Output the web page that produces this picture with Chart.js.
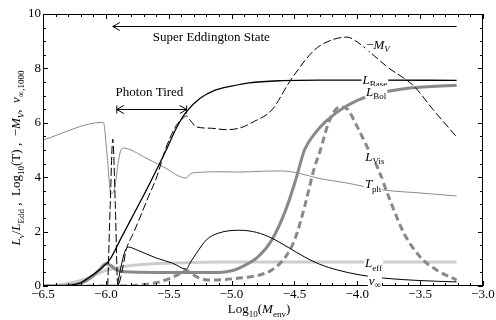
<!DOCTYPE html>
<html>
<head>
<meta charset="utf-8">
<script src="https://cdn.jsdelivr.net/npm/chart.js@4.4.1/dist/chart.umd.min.js"></script>
<style>
  html, body { margin:0; padding:0; background:#fff; }
</style>
</head>
<body>
<canvas id="c" width="496" height="320"></canvas>
<script>
const SERIF = '"Liberation Serif", "DejaVu Serif", serif';
const GREY  = '#898989';
const LIGHT = '#cdcdcd';

// --- data ---
const xTickVals = [-6.5, -6.0, -5.5, -5.0, -4.5, -4.0, -3.5, -3.0];
const yTickVals = [0, 2, 4, 6, 8, 10];

const lBaseX = [-6.5, -6.3, -6.2, -6.13, -6.05, -5.97, -5.88, -5.79, -5.65, -5.52, -5.44, -5.36, -5.25, -5.13, -5.0, -4.86, -4.6, -4.3, -3.9, -3.21];
const lBaseY = [0, 0.02, 0.12, 0.33, 0.6, 0.96, 1.75, 2.54, 3.78, 5.0, 5.8, 6.4, 6.9, 7.2, 7.35, 7.47, 7.55, 7.57, 7.57, 7.56];

const mvX = [-5.985, -5.965, -5.945, -5.925, -5.905, -5.88, -5.86, -5.84, -5.78, -5.73, -5.66, -5.6, -5.52, -5.44, -5.39, -5.36, -5.33, -5.28, -5.16, -5.05, -4.94, -4.82, -4.68, -4.53, -4.34, -4.2, -4.08, -4.0, -3.9, -3.76, -3.55, -3.4, -3.21];
const mvY = [0, 3.0, 5.4, 3.0, 0, 0.35, 0.8, 1.3, 1.95, 2.5, 3.3, 3.95, 5.1, 5.9, 6.15, 6.25, 6.1, 5.85, 5.8, 5.75, 5.8, 6.05, 6.47, 7.57, 8.68, 9.05, 9.15, 8.97, 8.6, 8.05, 7.35, 6.5, 5.48];

const lBolX = [-6.5, -6.3, -6.2, -6.12, -6.05, -6.0, -5.96, -5.92, -5.85, -5.6, -5.3, -5.1, -5.0, -4.94, -4.79, -4.68, -4.57, -4.49, -4.42, -4.33, -4.25, -4.1, -3.9, -3.58, -3.21];
const lBolY = [0, 0.02, 0.1, 0.3, 0.6, 0.82, 0.75, 0.6, 0.52, 0.5, 0.5, 0.5, 0.56, 0.66, 1.07, 1.69, 2.79, 3.9, 5.0, 5.65, 6.05, 6.58, 7.0, 7.28, 7.38];

const lVisX = [-6.5, -5.9, -5.75, -5.6, -5.48, -5.4, -5.36, -5.32, -5.26, -5.18, -5.05, -4.94, -4.86, -4.78, -4.68, -4.57, -4.49, -4.42, -4.34, -4.3, -4.22, -4.14, -4.08, -4.0, -3.92, -3.84, -3.74, -3.63, -3.5, -3.37, -3.21];
const lVisY = [0, 0, 0.03, 0.12, 0.3, 0.48, 0.57, 0.45, 0.3, 0.22, 0.24, 0.29, 0.33, 0.4, 0.59, 1.07, 1.8, 2.9, 4.37, 4.9, 6.1, 6.58, 6.5, 5.85, 5.1, 4.37, 3.16, 1.95, 1.07, 0.59, 0.22];

const tphX = [-6.5, -6.02, -5.99, -5.96, -5.93, -5.9, -5.88, -5.86, -5.8, -5.7, -5.55, -5.36, -5.33, -5.25, -5.1, -4.94, -4.75, -4.6, -4.47, -4.3, -4.1, -3.79, -3.5, -3.21];
const tphY = [5.37, 6.02, 4.8, 3.4, 3.6, 4.6, 5.0, 5.07, 5.0, 4.75, 4.4, 3.97, 4.12, 4.18, 4.2, 4.19, 4.22, 4.23, 4.15, 3.95, 3.8, 3.53, 3.42, 3.31];

const lEffX = [-6.5, -6.35, -6.2, -6.1, -6.0, -5.9, -5.79, -5.65, -5.52, -5.35, -5.1, -3.21];
const lEffY = [0, 0.05, 0.2, 0.38, 0.58, 0.68, 0.76, 0.81, 0.84, 0.86, 0.88, 0.88];

const vInfX = [-5.905, -5.88, -5.85, -5.82, -5.75, -5.6, -5.47, -5.36, -5.33, -5.28, -5.2, -5.1, -4.94, -4.8, -4.68, -4.55, -4.42, -4.3, -4.16, -3.97, -3.79, -3.5, -3.21];
const vInfY = [0.1, 0.7, 1.25, 1.43, 1.32, 1.03, 0.84, 0.62, 0.85, 1.2, 1.7, 1.95, 2.05, 1.97, 1.76, 1.42, 1.07, 0.8, 0.59, 0.4, 0.29, 0.2, 0.15];

const zip = (xs, ys) => xs.map((x, i) => ({ x, y: ys[i] }));

// rich text: parts = [text, style]  style: '' | 'i' | 's' | 'si'
function richWidth(ctx, parts, size) {
  let w = 0;
  for (const [t, st] of parts) {
    ctx.font = fontFor(st, size);
    w += ctx.measureText(t).width;
  }
  return w;
}
function fontFor(st, size) {
  const sub = st.includes('s');
  const it = st.includes('i');
  return (it ? 'italic ' : '') + (sub ? Math.round(size * 0.7) : size) + 'px ' + SERIF;
}
function drawRich(ctx, parts, cx, cy, size, bg) {
  const w = richWidth(ctx, parts, size);
  let x = cx - w / 2;
  const base = cy + size * 0.33;
  if (bg) {
    ctx.fillStyle = '#fff';
    ctx.fillRect(x - 1, cy - size * 0.45, w + 2, size * 0.95);
  }
  ctx.fillStyle = '#000';
  ctx.textBaseline = 'alphabetic';
  ctx.textAlign = 'left';
  for (const [t, st] of parts) {
    ctx.font = fontFor(st, size);
    ctx.fillText(t, x, base + (st.includes('s') ? size * 0.25 : 0));
    x += ctx.measureText(t).width;
  }
}

const curveLabels = [
  { x: -3.835, y: 8.88, parts: [['−', ''], ['M', 'i'], ['V', 'si']] },
  { x: -3.86,  y: 7.58, parts: [['L', 'i'], ['Base', 's']] },
  { x: -3.85,  y: 7.14, parts: [['L', 'i'], ['Bol', 's']] },
  { x: -3.86,  y: 4.75, parts: [['L', 'i'], ['Vis', 's']] },
  { x: -3.875, y: 3.75, parts: [['T', 'i'], ['ph', 's']] },
  { x: -3.87,  y: 0.84, parts: [['L', 'i'], ['eff', 's']] },
  { x: -3.86,  y: 0.21, parts: [['v', 'i'], ['∞', 's']] },
];

function arrowHead(ctx, x, y, dir) {
  ctx.beginPath();
  ctx.moveTo(x + dir * 7, y - 4);
  ctx.lineTo(x, y);
  ctx.lineTo(x + dir * 7, y + 4);
  ctx.stroke();
}

const decor = {
  id: 'decor',
  afterDatasetsDraw(chart) {
    const { ctx, chartArea: a, scales: { x, y } } = chart;
    ctx.save();
    ctx.strokeStyle = '#000';
    ctx.lineWidth = 1;
    ctx.setLineDash([]);

    // frame
    ctx.strokeRect(a.left + 0.5, a.top + 0.5, a.right - a.left - 1, a.bottom - a.top - 1);

    // inward ticks on all four sides
    ctx.beginPath();
    for (let k = 0; k <= 35; k++) {
      const v = -6.5 + k * 0.1;
      const px = Math.round(x.getPixelForValue(v)) + 0.5;
      const len = k % 5 === 0 ? 5 : 3;
      ctx.moveTo(px, a.bottom); ctx.lineTo(px, a.bottom - len);
      ctx.moveTo(px, a.top); ctx.lineTo(px, a.top + len);
    }
    for (let k = 0; k <= 20; k++) {
      const v = k * 0.5;
      const py = Math.round(y.getPixelForValue(v)) + 0.5;
      const len = k % 4 === 0 ? 5 : 3;
      ctx.moveTo(a.left, py); ctx.lineTo(a.left + len, py);
      ctx.moveTo(a.right, py); ctx.lineTo(a.right - len, py);
    }
    ctx.stroke();

    // Super Eddington arrow
    const sy = Math.round(y.getPixelForValue(9.55)) + 0.5;
    const sx0 = x.getPixelForValue(-5.945), sx1 = x.getPixelForValue(-3.21);
    ctx.beginPath(); ctx.moveTo(sx0, sy); ctx.lineTo(sx1, sy); ctx.stroke();
    arrowHead(ctx, sx0, sy, 1);
    drawRich(ctx, [['Super Eddington State', '']], x.getPixelForValue(-5.161), y.getPixelForValue(9.16), 13, false);

    // Photon Tired arrow
    const py = Math.round(y.getPixelForValue(6.5)) + 0.5;
    const px0 = x.getPixelForValue(-5.913), px1 = x.getPixelForValue(-5.357);
    ctx.beginPath(); ctx.moveTo(px0, py); ctx.lineTo(px1, py);
    ctx.moveTo(px0, py - 4); ctx.lineTo(px0, py + 4);
    ctx.moveTo(px1, py - 4); ctx.lineTo(px1, py + 4);
    ctx.stroke();
    arrowHead(ctx, px0, py, 1);
    arrowHead(ctx, px1, py, -1);
    drawRich(ctx, [['Photon Tired', '']], x.getPixelForValue(-5.653), y.getPixelForValue(7.14), 13, false);

    // curve labels
    for (const l of curveLabels) {
      drawRich(ctx, l.parts, x.getPixelForValue(l.x), y.getPixelForValue(l.y), 13, true);
    }

    // axis titles
    drawRich(ctx, [['Log', ''], ['10', 's'], ['(', ''], ['M', 'i'], ['env', 's'], [')', '']],
      (a.left + a.right) / 2 - 4, 309, 13, false);
    ctx.translate(16, 158);
    ctx.rotate(-Math.PI / 2);
    drawRich(ctx, [['L', 'i'], ['ν', 'si'], ['/', ''], ['L', 'i'], ['Edd', 's'], [' ,  Log', ''], ['10', 's'],
      ['(T) ,  −', ''], ['M', 'i'], ['V', 'si'], [',  ', ''], ['v', 'i'], ['∞,1000', 's']], 0, 0, 13, false);
    ctx.restore();
  }
};

const base = { pointRadius: 0, fill: false, cubicInterpolationMode: 'monotone', borderCapStyle: 'butt' };

new Chart(document.getElementById('c'), {
  type: 'line',
  data: {
    datasets: [
      { ...base, label: 'Base', data: zip(lBaseX, lBaseY), borderColor: '#000', borderWidth: 1.3, order: 1 },
      { ...base, label: '-MV', data: zip(mvX, mvY), borderColor: '#000', borderWidth: 1, borderDash: [8, 3], order: 0 },
      { ...base, label: 'v', data: zip(vInfX, vInfY), borderColor: '#000', borderWidth: 1, order: 2 },
      { ...base, label: 'Tph', data: zip(tphX, tphY), borderColor: GREY, borderWidth: 1, order: 3 },
      { ...base, label: 'Vis', data: zip(lVisX, lVisY), borderColor: GREY, borderWidth: 3, borderDash: [7, 4], order: 4 },
      { ...base, label: 'Bol', data: zip(lBolX, lBolY), borderColor: GREY, borderWidth: 3, order: 5 },
      { ...base, label: 'eff', data: zip(lEffX, lEffY), borderColor: LIGHT, borderWidth: 3, order: 6 },
    ]
  },
  options: {
    responsive: false,
    devicePixelRatio: 1,
    animation: false,
    layout: { padding: { top: 14, right: 13, left: 0, bottom: 0 } },
    plugins: { legend: { display: false }, tooltip: { enabled: false } },
    scales: {
      x: {
        type: 'linear', min: -6.5, max: -3.0,
        afterBuildTicks: s => { s.ticks = xTickVals.map(v => ({ value: v })); },
        afterFit: s => { s.height = 34; },
        grid: { display: false, drawTicks: false },
        border: { display: false },
        ticks: {
          autoSkip: false, maxRotation: 0, padding: 1, color: '#000',
          font: { family: SERIF, size: 13 },
          callback: v => (v < 0 ? '−' : '') + Math.abs(v).toFixed(1),
        },
      },
      y: {
        type: 'linear', min: 0, max: 10,
        afterBuildTicks: s => { s.ticks = yTickVals.map(v => ({ value: v })); },
        afterFit: s => { s.width = 43; },
        grid: { display: false, drawTicks: false },
        border: { display: false },
        ticks: {
          autoSkip: false, padding: 2, color: '#000',
          font: { family: SERIF, size: 13 },
          callback: v => String(v),
        },
      },
    },
  },
  plugins: [decor],
});
</script>
</body>
</html>
